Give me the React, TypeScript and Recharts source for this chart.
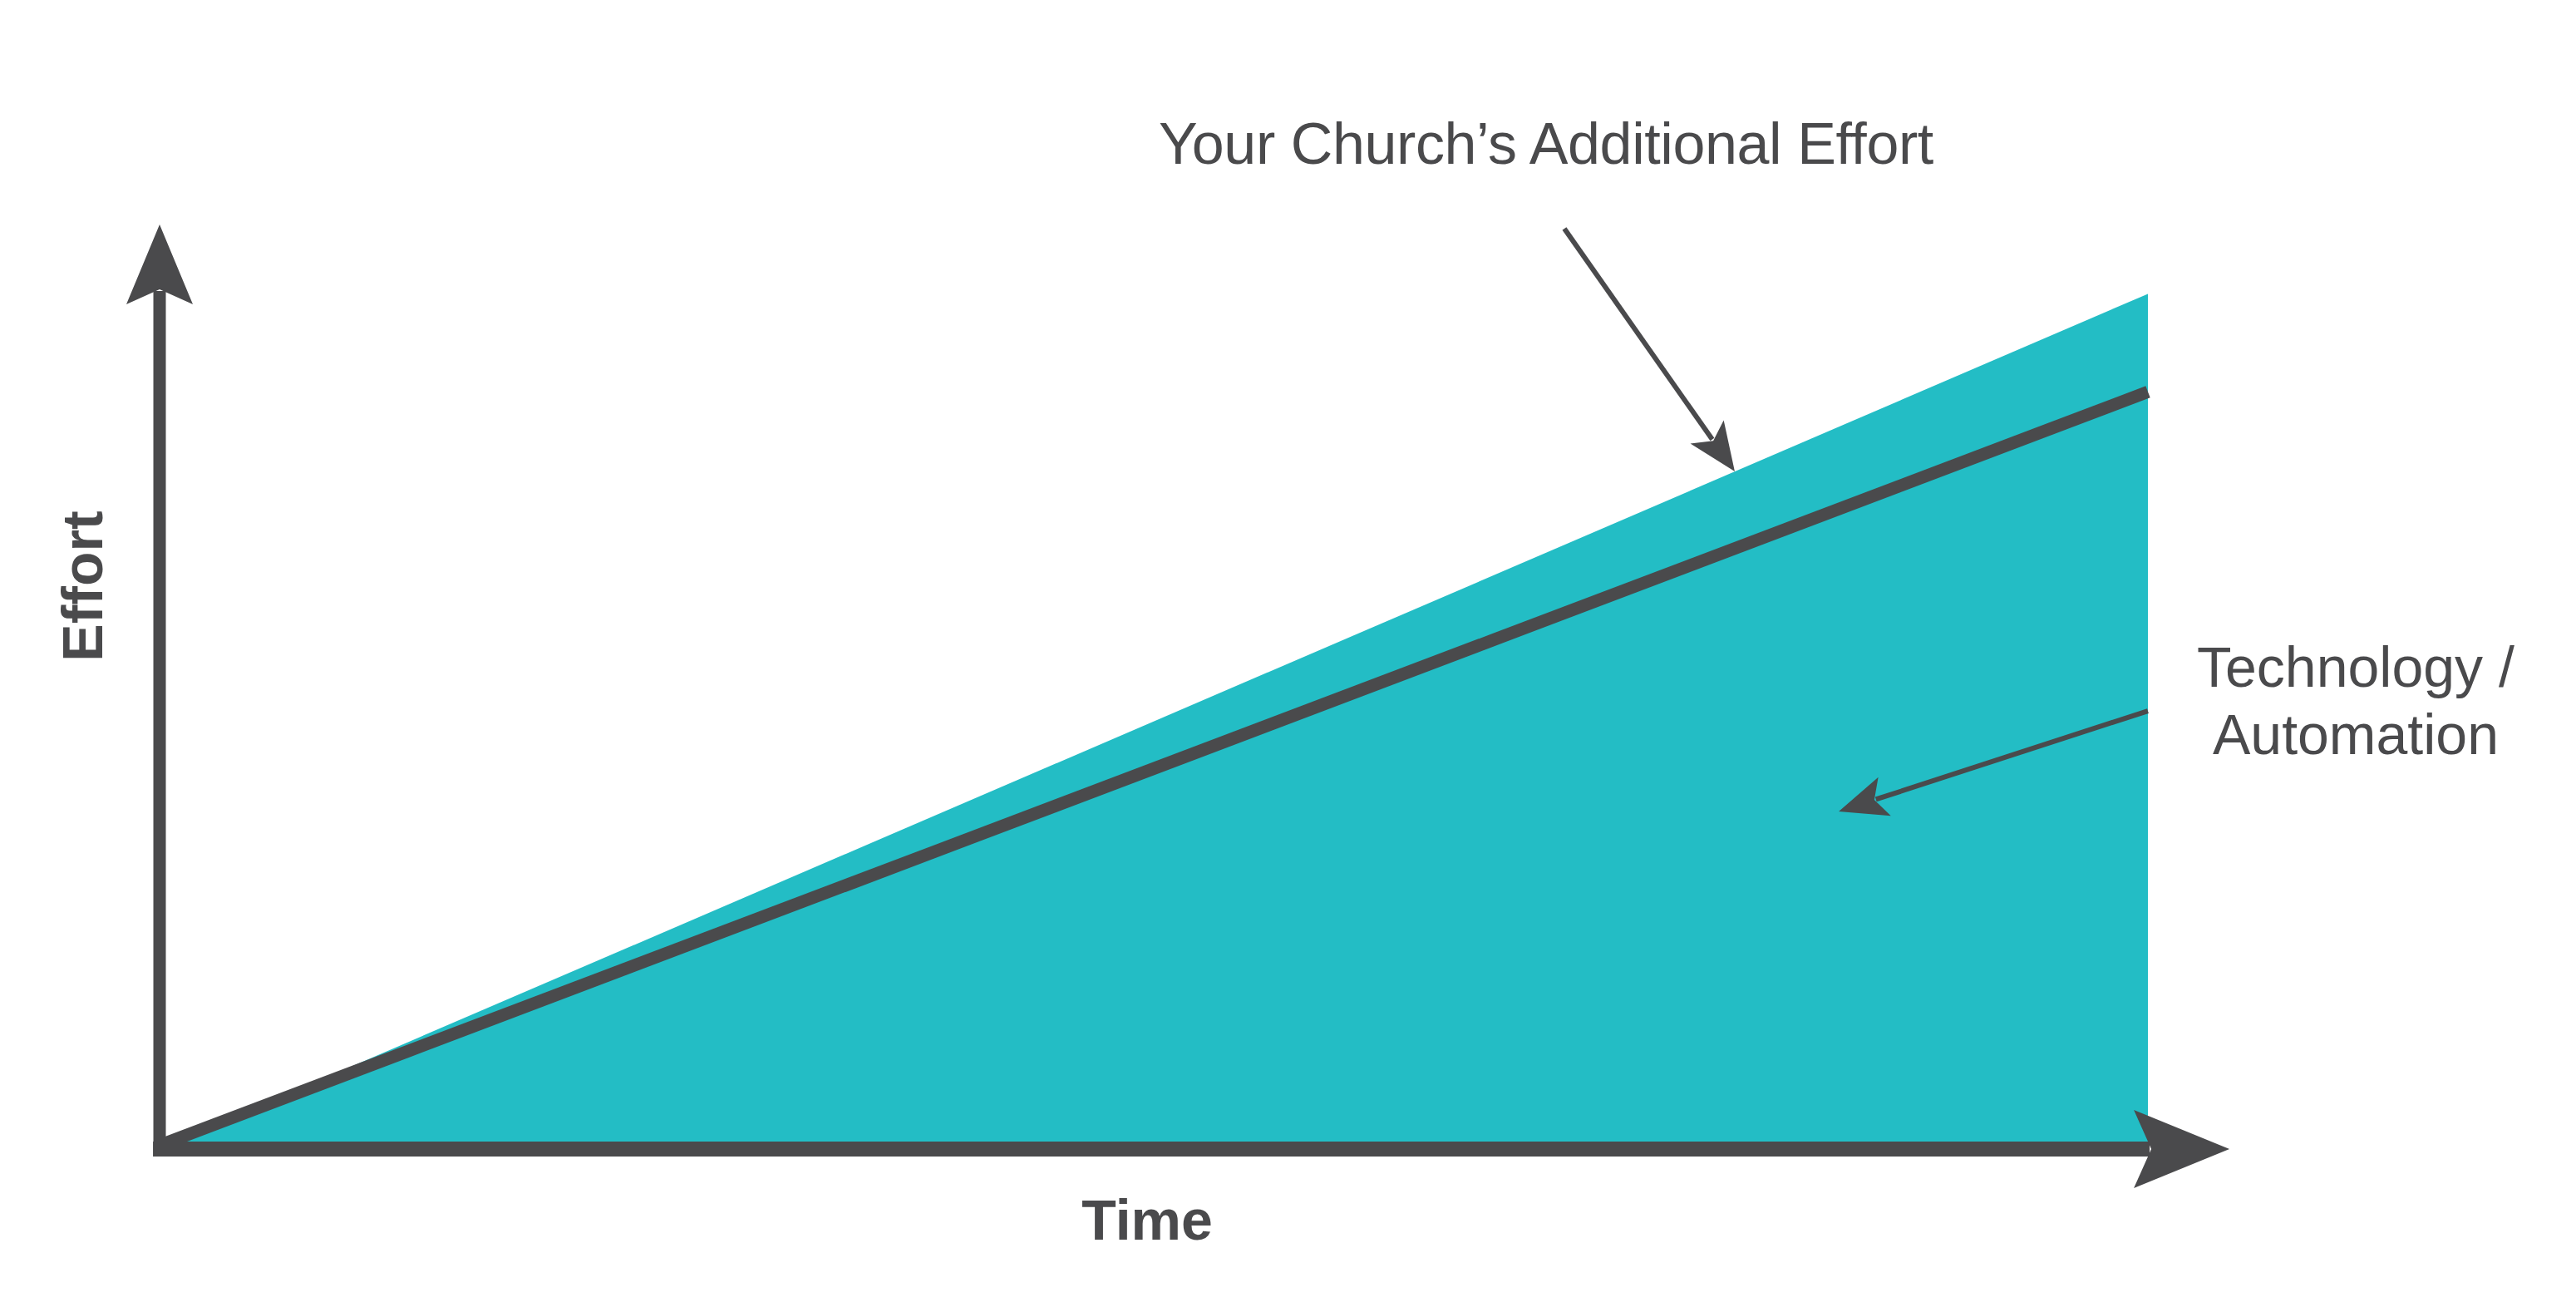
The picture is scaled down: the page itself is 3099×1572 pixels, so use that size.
import {
  ComposedChart,
  Area,
  Line,
  XAxis,
  YAxis,
  ReferenceLine,
  ReferenceDot,
} from "recharts";

const TEAL = "#23bdc5";
const DARK = "#4a4a4c";
const FONT = "'Liberation Sans', Arial, sans-serif";

// time in % of the span, effort in % of the axis height
const times = [0, 100];
const automation = [0, 92.5];
const churchEffort = [0.4, 81.9];

const data = times.map((t, i) => ({
  t,
  automation: automation[i],
  effort: churchEffort[i],
}));

// [from, to] in data units
const yAxisArrow = [
  [0, -0.8],
  [0, 100],
];
const xAxisArrow = [
  [-0.33, 0],
  [104.1, 0],
];
const churchPointer = [
  [70.65, 99.55],
  [79.22, 73.29],
];
const techPointer = [
  [100, 47.39],
  [84.45, 36.51],
];

// label anchors in data units
const titleLabel = { x: 69.73, y: 106.56, lines: ["Your Church’s Additional Effort"] };
const techLabel = { x: 110.45, y: 50.0, lines: ["Technology /", "Automation"] };
const effortLabel = { x: -2.88, y: 60.88, lines: ["Effort"] };
const timeLabel = { x: 49.67, y: -9.8, lines: ["Time"] };

const arrowShape =
  (width: number, len: number, half: number, notch: number) => (p: any) => {
    const { x1, y1, x2, y2 } = p;
    const dx = x2 - x1;
    const dy = y2 - y1;
    const l = Math.hypot(dx, dy);
    const ux = dx / l;
    const uy = dy / l;
    const nx = -uy;
    const ny = ux;
    const bx = x2 - ux * len;
    const by = y2 - uy * len;
    const mx = x2 - ux * (notch + 2);
    const my = y2 - uy * (notch + 2);
    const pts = [
      [x2, y2],
      [bx + nx * half, by + ny * half],
      [x2 - ux * notch, y2 - uy * notch],
      [bx - nx * half, by - ny * half],
    ]
      .map((q) => q.join(","))
      .join(" ");
    return (
      <g>
        <line x1={x1} y1={y1} x2={mx} y2={my} stroke={DARK} strokeWidth={width} />
        <polygon points={pts} fill={DARK} />
      </g>
    );
  };

const textContent =
  (lines: string[], opts: { bold?: boolean; rotate?: boolean; size?: number; spacing?: number }) =>
  (props: any) => {
    const { x, y } = props.viewBox;
    return (
      <text
        x={x}
        y={y}
        textAnchor="middle"
        fontFamily={FONT}
        fontSize={opts.size ?? 68}
        fontWeight={opts.bold ? 700 : 400}
        letterSpacing={opts.spacing}
        fill={DARK}
        transform={opts.rotate ? `rotate(-90 ${x} ${y})` : undefined}
      >
        {lines.map((s, i) => (
          <tspan key={s} x={x} dy={i === 0 ? 0 : 81}>
            {s}
          </tspan>
        ))}
      </text>
    );
  };

const seg = (s: number[][]) => [
  { x: s[0][0], y: s[0][1] },
  { x: s[1][0], y: s[1][1] },
];

export default function App() {
  return (
    <div style={{ position: "absolute", left: 0, top: 0, background: "#fff" }}>
      <ComposedChart
        width={3099}
        height={1572}
        data={data}
        margin={{ top: 270, right: 515, bottom: 190, left: 192 }}
      >
        <XAxis type="number" dataKey="t" domain={[0, 100]} hide />
        <YAxis type="number" domain={[0, 100]} hide />
        <Area
          type="linear"
          dataKey="automation"
          fill={TEAL}
          fillOpacity={1}
          stroke="none"
          isAnimationActive={false}
        />
        <Line
          type="linear"
          dataKey="effort"
          stroke={DARK}
          strokeWidth={15}
          strokeLinecap="butt"
          dot={false}
          activeDot={false}
          isAnimationActive={false}
        />
        <ReferenceLine
          segment={seg(yAxisArrow)}
          ifOverflow="visible"
          shape={arrowShape(15, 96, 40, 78)}
        />
        <ReferenceLine
          segment={seg(xAxisArrow)}
          ifOverflow="visible"
          shape={arrowShape(18, 115, 47, 94)}
        />
        <ReferenceLine
          segment={seg(churchPointer)}
          ifOverflow="visible"
          shape={arrowShape(6, 58, 24.5, 45)}
        />
        <ReferenceLine
          segment={seg(techPointer)}
          ifOverflow="visible"
          shape={arrowShape(6, 58, 24.5, 45)}
        />
        <ReferenceDot
          x={titleLabel.x}
          y={titleLabel.y}
          r={0}
          fill="none"
          stroke="none"
          ifOverflow="visible"
          label={{ content: textContent(titleLabel.lines, { size: 70, spacing: -0.4 }) }}
        />
        <ReferenceDot
          x={techLabel.x}
          y={techLabel.y}
          r={0}
          fill="none"
          stroke="none"
          ifOverflow="visible"
          label={{ content: textContent(techLabel.lines, {}) }}
        />
        <ReferenceDot
          x={effortLabel.x}
          y={effortLabel.y}
          r={0}
          fill="none"
          stroke="none"
          ifOverflow="visible"
          label={{ content: textContent(effortLabel.lines, { bold: true, rotate: true }) }}
        />
        <ReferenceDot
          x={timeLabel.x}
          y={timeLabel.y}
          r={0}
          fill="none"
          stroke="none"
          ifOverflow="visible"
          label={{ content: textContent(timeLabel.lines, { bold: true }) }}
        />
      </ComposedChart>
    </div>
  );
}
